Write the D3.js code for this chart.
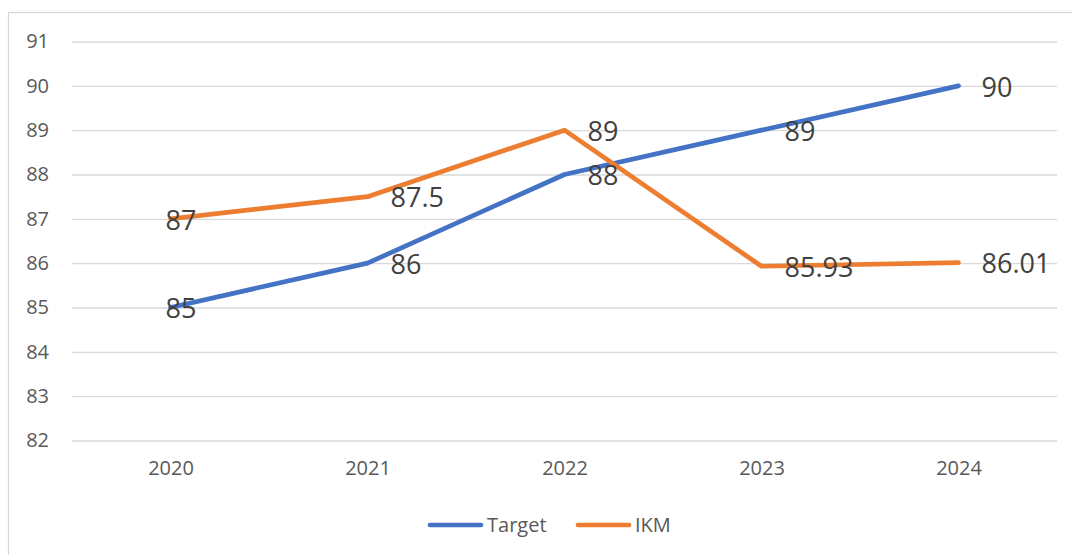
<!DOCTYPE html>
<html>
<head>
<meta charset="utf-8">
<script src="https://cdn.jsdelivr.net/npm/d3@7"></script>
<style>
  html, body { margin: 0; padding: 0; background: #fff; }
  svg { display: block; }
</style>
</head>
<body>
<svg id="chart" width="1072" height="555"></svg>
<script>
const categories = ["2020", "2021", "2022", "2023", "2024"];
const targetValues = [85, 86, 88, 89, 90];
const ikmValues = [87, 87.5, 89, 85.93, 86.01];
const targetLabels = ["85", "86", "88", "89", "90"];
const ikmLabels = ["87", "87.5", "89", "85.93", "86.01"];
const yTicks = [82, 83, 84, 85, 86, 87, 88, 89, 90, 91];
const seriesNames = ["Target", "IKM"];
const colors = ["#4472C4", "#ED7D31"];

const svg = d3.select("#chart");
const font = "'Open Sans', 'Liberation Sans', sans-serif";

// chart border
svg.append("rect")
  .attr("x", 8.5).attr("y", 12.5)
  .attr("width", 1100).attr("height", 600)
  .attr("fill", "none").attr("stroke", "#d9d9d9").attr("stroke-width", 1.3);

const x = d3.scalePoint().domain(categories).range([72, 1057]).padding(0.5);
const y = d3.scaleLinear().domain([82, 91]).range([440.5, 41.5]);

// gridlines
const grid = svg.append("g")
  .attr("transform", "translate(72,0)")
  .call(d3.axisLeft(y).tickValues(yTicks).tickSize(-(1057 - 72)).tickFormat(""));
grid.select(".domain").remove();
grid.selectAll(".tick line").attr("stroke", "#d9d9d9").attr("stroke-width", 1.3);

// y labels
const yAxis = svg.append("g")
  .attr("transform", "translate(72,0)")
  .call(d3.axisLeft(y).tickValues(yTicks).tickSize(0).tickPadding(23).tickFormat(d3.format("d")));
yAxis.select(".domain").remove();
yAxis.selectAll("text")
  .attr("fill", "#595959").style("font-family", font).style("font-size", "20px");

// x labels
const xAxis = svg.append("g")
  .attr("transform", "translate(0,440.5)")
  .call(d3.axisBottom(x).tickSize(0).tickPadding(20));
xAxis.select(".domain").remove();
xAxis.selectAll("text")
  .attr("fill", "#595959").style("font-family", font).style("font-size", "20px");

const series = [
  { name: seriesNames[0], values: targetValues, labels: targetLabels, color: colors[0] },
  { name: seriesNames[1], values: ikmValues, labels: ikmLabels, color: colors[1] }
];

const line = d3.line()
  .x((d, i) => x(categories[i]))
  .y(d => y(d));

series.forEach(s => {
  svg.append("path")
    .datum(s.values)
    .attr("d", line)
    .attr("fill", "none")
    .attr("stroke", s.color)
    .attr("stroke-width", 4.7)
    .attr("stroke-linejoin", "round")
    .attr("stroke-linecap", "round");
});

// data labels
series.forEach(s => {
  svg.append("g").selectAll("text")
    .data(s.values)
    .join("text")
    .attr("x", (d, i) => x(categories[i]) + (i === 0 ? -5 : 23))
    .attr("y", d => y(d) + 1)
    .attr("dy", "0.36em")
    .attr("fill", "#404040")
    .style("font-family", font)
    .style("font-size", "27px")
    .text((d, i) => s.labels[i]);
});

// legend
const legend = svg.append("g");
const legendItems = [
  { x0: 428, text: seriesNames[0], color: colors[0] },
  { x0: 576, text: seriesNames[1], color: colors[1] }
];
legendItems.forEach(item => {
  legend.append("line")
    .attr("x1", item.x0 + 2).attr("x2", item.x0 + 53)
    .attr("y1", 525).attr("y2", 525)
    .attr("stroke", item.color).attr("stroke-width", 4.7)
    .attr("stroke-linecap", "round");
  legend.append("text")
    .attr("x", item.x0 + 59).attr("y", 525)
    .attr("dy", "0.36em")
    .attr("fill", "#595959")
    .style("font-family", font).style("font-size", "20px")
    .text(item.text);
});
</script>
</body>
</html>
